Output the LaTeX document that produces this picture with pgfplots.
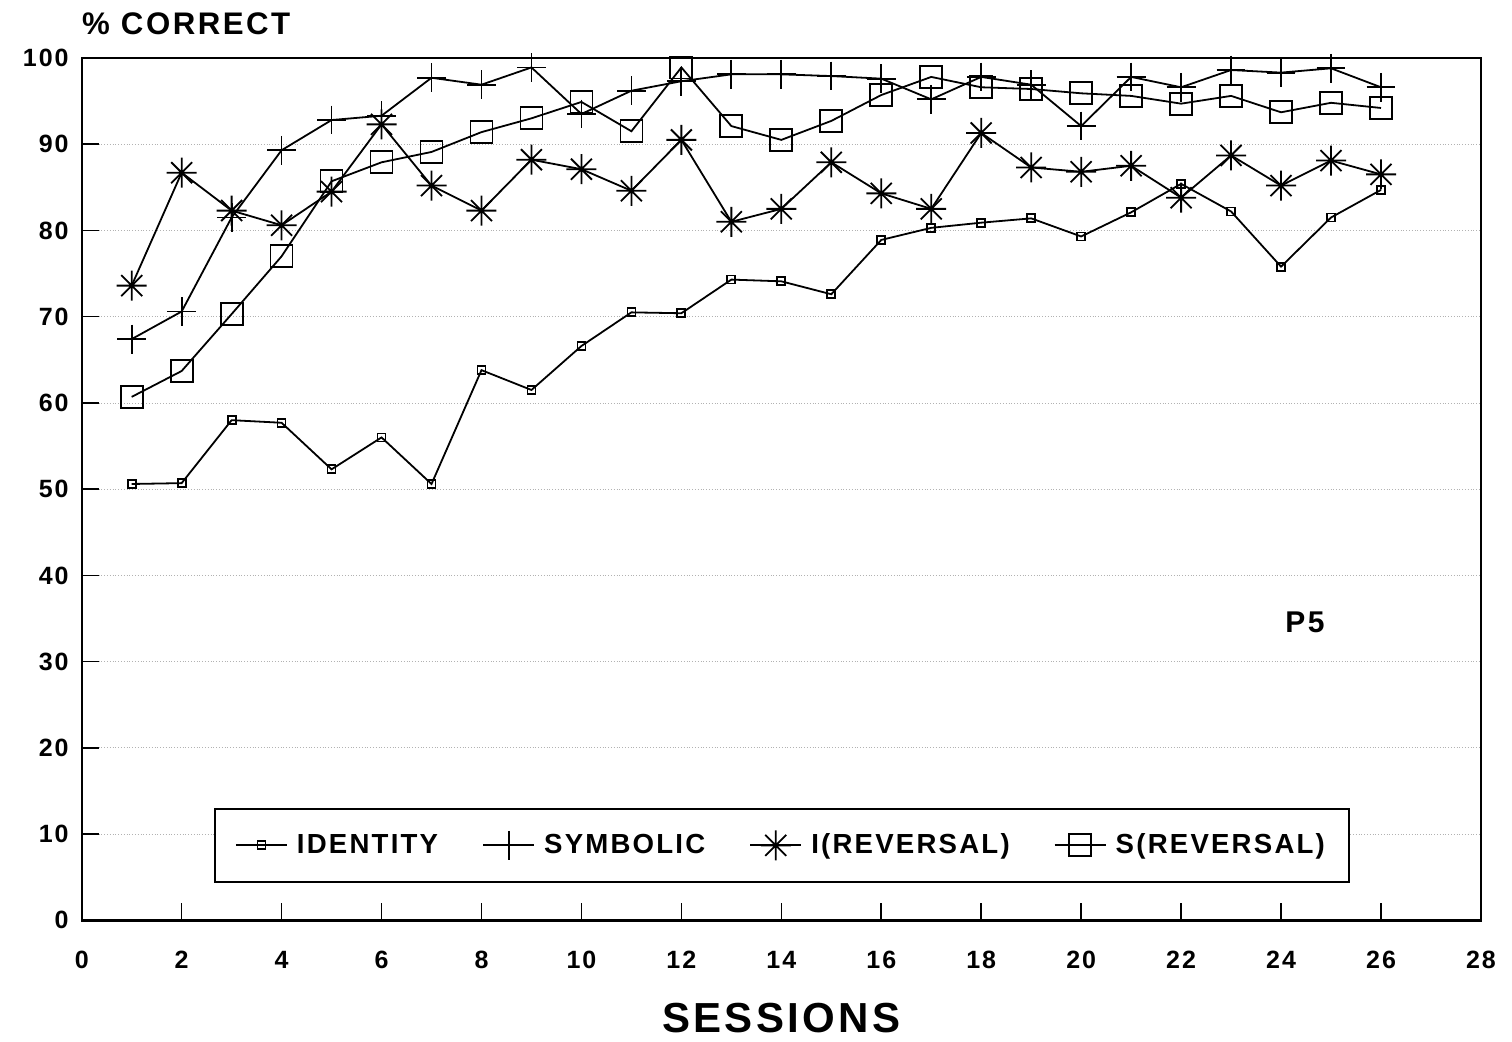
\documentclass[border=0pt]{standalone}
\usepackage{fontspec}
\setmainfont{Liberation Sans}[LetterSpace=8]
\usepackage{pgfplots}
\pgfplotsset{compat=1.18}

% eight-armed asterisk
\pgfdeclareplotmark{ast8}{%
  \pgfpathmoveto{\pgfqpoint{-\pgfplotmarksize}{0pt}}%
  \pgfpathlineto{\pgfqpoint{\pgfplotmarksize}{0pt}}%
  \pgfpathmoveto{\pgfqpoint{0pt}{-\pgfplotmarksize}}%
  \pgfpathlineto{\pgfqpoint{0pt}{\pgfplotmarksize}}%
  \pgfpathmoveto{\pgfqpoint{-0.7\pgfplotmarksize}{-0.7\pgfplotmarksize}}%
  \pgfpathlineto{\pgfqpoint{0.7\pgfplotmarksize}{0.7\pgfplotmarksize}}%
  \pgfpathmoveto{\pgfqpoint{-0.7\pgfplotmarksize}{0.7\pgfplotmarksize}}%
  \pgfpathlineto{\pgfqpoint{0.7\pgfplotmarksize}{-0.7\pgfplotmarksize}}%
  \pgfusepathqstroke}

\begin{document}
\begin{tikzpicture}
\begin{axis}[
  scale only axis, clip=false,
  width=699.6pt, height=431.2pt,
  xmin=0, xmax=28, ymin=0, ymax=100,
  xtick={0,2,...,28}, ytick={0,10,...,100},
  axis line style={line width=1.2pt},
  tick style={line width=0.8pt, black},
  tick align=inside, xtick pos=bottom, ytick pos=left,
  major tick length=8.5pt,
  ymajorgrids,
  grid style={densely dotted, gray!60, line width=0.4pt},
  /pgf/number format/assume math mode=true,
  tick label style={font=\fontsize{12.5}{14}\selectfont\bfseries},
  xticklabel style={yshift=-12pt},
  yticklabel style={xshift=-3pt},
  xlabel={SESSIONS},
  xlabel style={font=\fontsize{21}{25}\selectfont\bfseries, at={(0.5,-0.113)}, anchor=center},
  legend columns=4,
  legend style={
    at={(0.0945,0.0435)}, anchor=south west,
    draw=black, line width=1pt, fill=white,
    font=\fontsize{13.8}{16}\selectfont\bfseries,
    inner xsep=10pt, inner ysep=10.5pt,
    /tikz/every odd column/.append style={column sep=2.5pt},
    /tikz/every even column/.append style={column sep=20pt},
  },
  legend image code/.code={%
    \draw[#1, mark repeat=2, mark phase=2]
      plot coordinates {(0cm,0cm) (0.45cm,0cm) (0.9cm,0cm)};},
  every axis plot/.append style={black, line width=0.9pt, mark options={solid, line width=0.9pt}},
]

\addplot[mark=square, mark size=2pt] coordinates {
  (1,50.6) (2,50.7) (3,58.0) (4,57.7) (5,52.3) (6,56.0) (7,50.6)
  (8,63.8) (9,61.5) (10,66.6) (11,70.5) (12,70.4) (13,74.3) (14,74.1)
  (15,72.6) (16,78.9) (17,80.3) (18,80.9) (19,81.4) (20,79.3) (21,82.1)
  (22,85.4) (23,82.2) (24,75.8) (25,81.5) (26,84.7)};
\addlegendentry{IDENTITY}

\addplot[mark=+, mark size=7.2pt] coordinates {
  (1,67.4) (2,70.6) (3,81.5) (4,89.3) (5,92.8) (6,93.3) (7,97.7)
  (8,96.9) (9,98.9) (10,93.5) (11,96.2) (12,97.3) (13,98.1) (14,98.1)
  (15,97.9) (16,97.6) (17,95.2) (18,97.8) (19,96.9) (20,92.1) (21,97.8)
  (22,96.6) (23,98.6) (24,98.3) (25,98.8) (26,96.6)};
\addlegendentry{SYMBOLIC}

\addplot[mark=ast8, mark size=7.5pt] coordinates {
  (1,73.6) (2,86.7) (3,82.3) (4,80.6) (5,84.5) (6,92.3) (7,85.2)
  (8,82.3) (9,88.2) (10,87.1) (11,84.6) (12,90.5) (13,81.0) (14,82.5)
  (15,87.9) (16,84.3) (17,82.5) (18,91.3) (19,87.3) (20,86.8) (21,87.5)
  (22,83.8) (23,88.7) (24,85.2) (25,88.1) (26,86.5)};
\addlegendentry{I(REVERSAL)}

\addplot[mark=square, mark size=5.5pt] coordinates {
  (1,60.7) (2,63.7) (3,70.3) (4,77.0) (5,85.7) (6,87.9) (7,89.1)
  (8,91.4) (9,93.0) (10,94.9) (11,91.5) (12,98.9) (13,92.1) (14,90.5)
  (15,92.7) (16,95.7) (17,97.8) (18,96.6) (19,96.4) (20,95.9) (21,95.6)
  (22,94.7) (23,95.6) (24,93.7) (25,94.8) (26,94.2)};
\addlegendentry{S(REVERSAL)}

\node[font=\fontsize{15.6}{18}\selectfont\bfseries, anchor=west, inner sep=0pt]
  at (axis description cs:0,1.0394) {\% CORRECT};
\node[font=\fontsize{15}{18}\selectfont\bfseries] at (axis cs:24.48,34.6) {P5};

\coordinate (bbl) at (axis description cs:-0.0584,-0.1409);
\coordinate (bbr) at (axis description cs:1.0222,1.0672);
\end{axis}
\pgfresetboundingbox
\useasboundingbox (bbl) rectangle (bbr);
\end{tikzpicture}
\end{document}
